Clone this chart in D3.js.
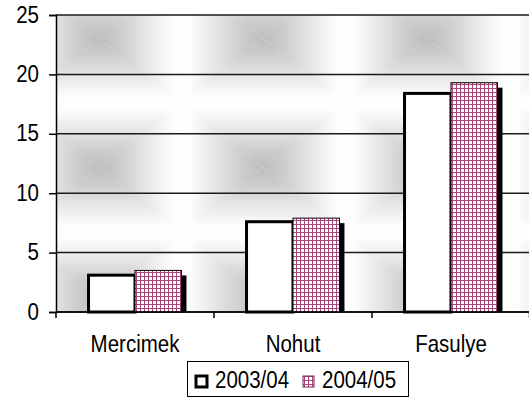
<!DOCTYPE html>
<html><head><meta charset="utf-8">
<script src="https://cdn.jsdelivr.net/npm/d3@7"></script>
<style>body{margin:0;background:#fff}svg{display:block;font-family:Arial,"Liberation Sans",sans-serif}</style>
</head><body><svg id="c" width="529" height="400"></svg>
<script>
const categories = ["Mercimek", "Nohut", "Fasulye"];
const seriesNames = ["2003/04", "2004/05"];
const values2003 = [3.1, 7.6, 18.4];
const values2004 = [3.5, 7.9, 19.3];
const yTicks = [0, 5, 10, 15, 20, 25];

const svg = d3.select("#c");
const L = 56, R = 530, T = 15, B = 312;
const FS = 20.5, SY = 1.15;
const y = d3.scaleLinear().domain([0, 25]).range([B, T]);
const x0 = d3.scaleBand().domain(categories).range([L, R]).padding(0);
const x1 = d3.scaleBand().domain(seriesNames).range([0, x0.bandwidth()]).paddingInner(0).paddingOuter(0.7);

const defs = svg.append("defs");
const TW = 164, TH = 129;
const bg = defs.append("pattern").attr("id", "bgp").attr("patternUnits", "userSpaceOnUse")
  .attr("x", 17).attr("y", -26).attr("width", TW).attr("height", TH);
function lg(id, a, b, c, d) {
  const g = defs.append("linearGradient").attr("id", id).attr("gradientUnits", "userSpaceOnUse")
    .attr("x1", a).attr("y1", b).attr("x2", c).attr("y2", d);
  [[0, "#ffffff"], [0.12, "#fcfcfc"], [0.45, "#e4e4e4"], [0.75, "#cccccc"], [1, "#bdbdbd"]].forEach(s =>
    g.append("stop").attr("offset", s[0]).attr("stop-color", s[1]));
}
const cx = TW / 2, cy = TH / 2;
lg("gT", 0, 0, 0, cy); lg("gB", 0, TH, 0, cy); lg("gL", 0, 0, cx, 0); lg("gR", TW, 0, cx, 0);
bg.append("path").attr("d", `M0,0L${TW},0L${cx},${cy}Z`).attr("fill", "url(#gT)");
bg.append("path").attr("d", `M0,${TH}L${TW},${TH}L${cx},${cy}Z`).attr("fill", "url(#gB)");
bg.append("path").attr("d", `M0,0L0,${TH}L${cx},${cy}Z`).attr("fill", "url(#gL)");
bg.append("path").attr("d", `M${TW},0L${TW},${TH}L${cx},${cy}Z`).attr("fill", "url(#gR)");

const gp = defs.append("pattern").attr("id", "grid").attr("patternUnits", "userSpaceOnUse")
  .attr("width", 4).attr("height", 4);
gp.append("rect").attr("width", 4).attr("height", 4).attr("fill", "#fff");
gp.append("rect").attr("x", 0).attr("y", 0).attr("width", 1).attr("height", 4).attr("fill", "#a8457a");
gp.append("rect").attr("x", 0).attr("y", 0).attr("width", 4).attr("height", 1).attr("fill", "#a8457a");

svg.append("rect").attr("x", L).attr("y", T).attr("width", R - L).attr("height", B - T).attr("fill", "url(#bgp)");

svg.append("g").selectAll("line").data(yTicks).join("line")
  .attr("x1", L).attr("x2", R).attr("y1", d => y(d)).attr("y2", d => y(d))
  .attr("stroke", "#1a1a1a").attr("stroke-width", 1.5);

const data = categories.map((c, i) => ({ c, v: [values2003[i], values2004[i]] }));
const fills = ["#ffffff", "url(#grid)"];
const g = svg.append("g");
data.forEach(d => {
  seriesNames.forEach((s, j) => {
    const bx = x0(d.c) + x1(s), bw = x1.bandwidth(), by = y(d.v[j]);
    g.append("rect").attr("x", bx + 5).attr("y", by + 5).attr("width", bw).attr("height", B - by - 5).attr("fill", "#000");
    g.append("rect").attr("x", bx).attr("y", by).attr("width", bw).attr("height", B - by)
      .attr("fill", fills[j]).attr("stroke", "#000").attr("stroke-width", j === 0 ? 3 : 1);
  });
});

function label(sel, x, yy, anchor, txt) {
  return sel.append("text").attr("transform", `translate(${x},${yy}) scale(1,${SY})`)
    .attr("text-anchor", anchor).attr("font-size", FS).attr("fill", "#000").text(txt);
}

const ya = svg.append("g").attr("transform", `translate(${L},0)`)
  .call(d3.axisLeft(y).tickValues(yTicks).tickSize(7).tickPadding(6));
ya.select(".domain").attr("stroke", "#000").attr("stroke-width", 1.5);
ya.selectAll(".tick line").attr("stroke", "#000").attr("stroke-width", 1.5);
ya.selectAll(".tick text").remove();
yTicks.forEach(t => label(svg, 39, y(t) + 7.5, "end", t));

const xa = svg.append("g").attr("transform", `translate(0,${B})`);
xa.append("line").attr("x1", L).attr("x2", R).attr("stroke", "#000").attr("stroke-width", 1.5);
xa.selectAll("line.t").data(categories.map(c => x0(c)).concat([R - 0.5])).join("line").attr("class", "t")
  .attr("x1", d => d).attr("x2", d => d).attr("y1", 0).attr("y2", 6).attr("stroke", "#000").attr("stroke-width", 1.5);
categories.forEach(c => label(svg, x0(c) + x0.bandwidth() / 2, B + 40, "middle", c));

const lgG = svg.append("g");
lgG.append("rect").attr("x", 187.5).attr("y", 361.5).attr("width", 221).attr("height", 35)
  .attr("fill", "#fff").attr("stroke", "#000").attr("stroke-width", 1);
const items = [{ s: seriesNames[0], x: 196, tx: 215, f: "#fff", thick: true }, { s: seriesNames[1], x: 303, tx: 322, f: "url(#grid)", thick: false }];
items.forEach(it => {
  lgG.append("rect").attr("x", it.x).attr("y", 376).attr("width", 11).attr("height", 11)
    .attr("fill", it.f).attr("stroke", it.thick ? "#000" : "#7a2a55").attr("stroke-width", it.thick ? 3 : 1);
  label(lgG, it.tx, 388, "start", it.s);
});
</script></body></html>
